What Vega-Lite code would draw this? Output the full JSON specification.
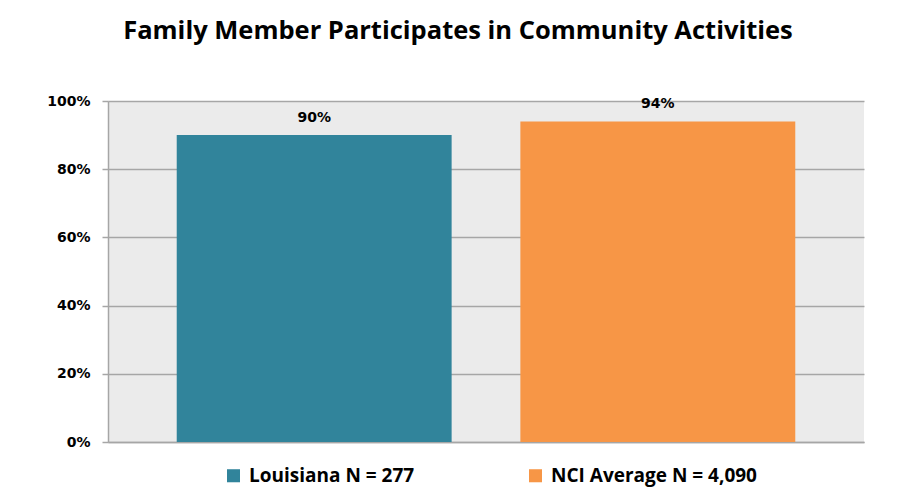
{
  "$schema": "https://vega.github.io/schema/vega-lite/v6.json",
  "width": 756,
  "height": 341,
  "autosize": {"type": "none"},
  "padding": {"left": 108, "top": 101, "right": 36, "bottom": 56},
  "background": "white",
  "title": {
    "text": "Family Member Participates in Community Activities",
    "font": "Open Sans",
    "fontSize": 25.5,
    "fontWeight": "bold",
    "color": "#000000",
    "anchor": "middle",
    "dx": -28,
    "offset": 50
  },
  "data": {
    "values": [
      {"group": "Louisiana N = 277", "value": 0.90},
      {"group": "NCI Average N = 4,090", "value": 0.94}
    ]
  },
  "encoding": {
    "x": {
      "field": "group",
      "type": "nominal",
      "sort": null,
      "scale": {"paddingInner": 0.2, "paddingOuter": 0.2},
      "axis": {"labels": false, "ticks": false, "title": null, "domainColor": "#A6A6A6", "domainWidth": 1.5, "grid": false}
    },
    "y": {
      "field": "value",
      "type": "quantitative",
      "scale": {"domain": [0, 1], "nice": false},
      "axis": {
        "title": null,
        "format": ".0%",
        "values": [0, 0.2, 0.4, 0.6, 0.8, 1],
        "labelFont": "DejaVu Sans",
        "labelFontSize": 14,
        "labelFontWeight": "bold",
        "labelColor": "#000000",
        "labelPadding": 12,
        "tickSize": 6,
        "tickColor": "#A6A6A6",
        "tickWidth": 1.5,
        "gridColor": "#A6A6A6",
        "gridWidth": 1.5,
        "domainColor": "#A6A6A6",
        "domainWidth": 1.5
      }
    }
  },
  "layer": [
    {
      "mark": {"type": "bar"},
      "encoding": {
        "color": {
          "field": "group",
          "type": "nominal",
          "sort": null,
          "scale": {"range": ["#31849B", "#F79646"]},
          "legend": {
            "title": null,
            "orient": "none",
            "legendX": 116,
            "legendY": 365,
            "direction": "horizontal",
            "symbolType": "square",
            "symbolSize": 170,
            "symbolStrokeWidth": 0,
            "labelFont": "Open Sans",
            "labelFontSize": 19,
            "labelFontWeight": "bold",
            "labelColor": "#000000",
            "labelOffset": 6,
            "columnPadding": 111,
            "labelLimit": 400
          }
        }
      }
    },
    {
      "mark": {"type": "text", "dy": -10, "font": "DejaVu Sans", "fontSize": 14, "fontWeight": "bold", "color": "#000000", "baseline": "bottom"},
      "encoding": {
        "text": {"field": "value", "type": "quantitative", "format": ".0%"}
      }
    }
  ],
  "config": {
    "view": {"fill": "#EBEBEB", "stroke": null}
  }
}
